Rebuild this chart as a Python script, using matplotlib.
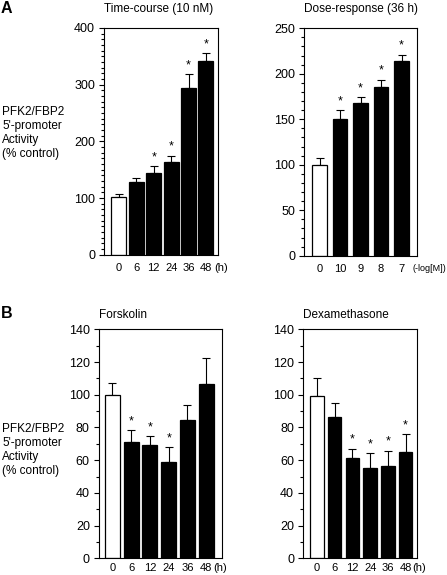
import numpy as np
import matplotlib
matplotlib.use("Agg")
import matplotlib.pyplot as plt
from matplotlib.ticker import MultipleLocator

plt.rcParams['font.family'] = ['Liberation Sans', 'DejaVu Sans']

# data
time_labels = ['0', '6', '12', '24', '36', '48']
time_vals = [101, 129, 145, 164, 295, 341]
time_err = [6, 7, 12, 11, 23, 15]
time_sig = [False, False, True, True, True, True]

dose_labels = ['0', '10', '9', '8', '7']
dose_vals = [100, 150, 168, 186, 214]
dose_err = [7, 10, 6.5, 7.5, 7]
dose_sig = [False, True, True, True, True]

forsk_labels = ['0', '6', '12', '24', '36', '48']
forsk_vals = [100, 71, 69.5, 59, 84.5, 106.5]
forsk_err = [7, 7.3, 5, 9, 9, 16]
forsk_sig = [False, True, True, True, False, False]

dexa_labels = ['0', '6', '12', '24', '36', '48']
dexa_vals = [99, 86.5, 61.5, 55.5, 56.5, 65]
dexa_err = [11.5, 8.6, 5.5, 8.8, 9.4, 10.8]
dexa_sig = [False, False, True, True, True, True]

W, H = 447, 575
fig = plt.figure(figsize=(W / 100, H / 100), dpi=100)


def px_axes(l, r, t, b):
    return fig.add_axes([l / W, 1 - b / H, (r - l) / W, (b - t) / H])


def panel(ax, labels, vals, errs, sig, ymax, major, xlim, width, title, title_pad, xpad):
    x = np.arange(len(vals))
    colors = ['white'] + ['black'] * (len(vals) - 1)
    ax.bar(x, vals, width=width, color=colors, edgecolor='black', linewidth=0.9, zorder=2)
    ax.errorbar(x, vals, yerr=[np.zeros(len(errs)), errs], fmt='none', ecolor='black',
                elinewidth=0.8, capsize=2.8, capthick=0.8, zorder=1)
    for xi, v, e, s in zip(x, vals, errs, sig):
        if s:
            ax.annotate('*', xy=(xi, v + e), xytext=(0, 2), textcoords='offset points',
                        ha='center', va='bottom', fontsize=9)
    ax.set_xlim(*xlim)
    ax.set_ylim(0, ymax)
    ax.yaxis.set_major_locator(MultipleLocator(major))
    ax.yaxis.set_minor_locator(MultipleLocator(10))
    ax.set_xticks(x)
    ax.set_xticklabels(labels)
    ax.tick_params(axis='x', length=0, pad=xpad, labelsize=8)
    ax.tick_params(axis='y', which='major', length=3.6, width=0.8, pad=3, labelsize=9)
    ax.tick_params(axis='y', which='minor', length=2.2, width=0.8)
    for sp in ax.spines.values():
        sp.set_linewidth(0.8)
    ax.set_title(title, loc='left', fontsize=8.5, pad=title_pad)


def unit_label(ax, text, x, xcoords, xpad, size=8, ha='left'):
    ax.annotate(text, xy=(x, 0), xycoords=(xcoords, 'axes fraction'),
                xytext=(0, -xpad), textcoords='offset points', ha=ha, va='top',
                fontsize=size)


ax1 = px_axes(104.3, 218.3, 28, 254.7)
panel(ax1, time_labels, time_vals, time_err, time_sig, 400, 100, (-0.84, 5.71), 0.86,
      'Time-course (10 nM)', 11.5, 6)
unit_label(ax1, '(h)', 5.45, 'data', 6)

ax2 = px_axes(304.3, 417.3, 28.3, 255.7)
panel(ax2, dose_labels, dose_vals, dose_err, dose_sig, 250, 50, (-0.75, 4.77), 0.72,
      'Dose-response (36 h)', 11.5, 6)
unit_label(ax2, '(-log[M])', 446 / W, 'figure fraction', 6.3, size=6.5, ha='right')

ax3 = px_axes(99, 222.3, 329.3, 558.3)
panel(ax3, forsk_labels, forsk_vals, forsk_err, forsk_sig, 140, 20, (-0.72, 5.86), 0.8,
      'Forskolin', 8, 3.5)
unit_label(ax3, '(h)', 5.4, 'data', 3.5)

ax4 = px_axes(303.3, 417, 329.3, 558.3)
panel(ax4, dexa_labels, dexa_vals, dexa_err, dexa_sig, 140, 20, (-0.77, 5.64), 0.76,
      'Dexamethasone', 8, 3.5)
unit_label(ax4, '(h)', 5.4, 'data', 3.5)

ylab = "PFK2/FBP2\n5'-promoter\nActivity\n(% control)"
fig.text(2 / W, 1 - 133 / H, ylab, ha='left', va='center', fontsize=8.5, linespacing=1.25)
fig.text(2 / W, 1 - 450 / H, ylab, ha='left', va='center', fontsize=8.5, linespacing=1.25)

fig.text(0.5 / W, 1 - 1 / H, 'A', ha='left', va='top', fontsize=11.5, fontweight='bold')
fig.text(0.5 / W, 1 - 306 / H, 'B', ha='left', va='top', fontsize=11.5, fontweight='bold')

fig.savefig('out.png', dpi=100)
